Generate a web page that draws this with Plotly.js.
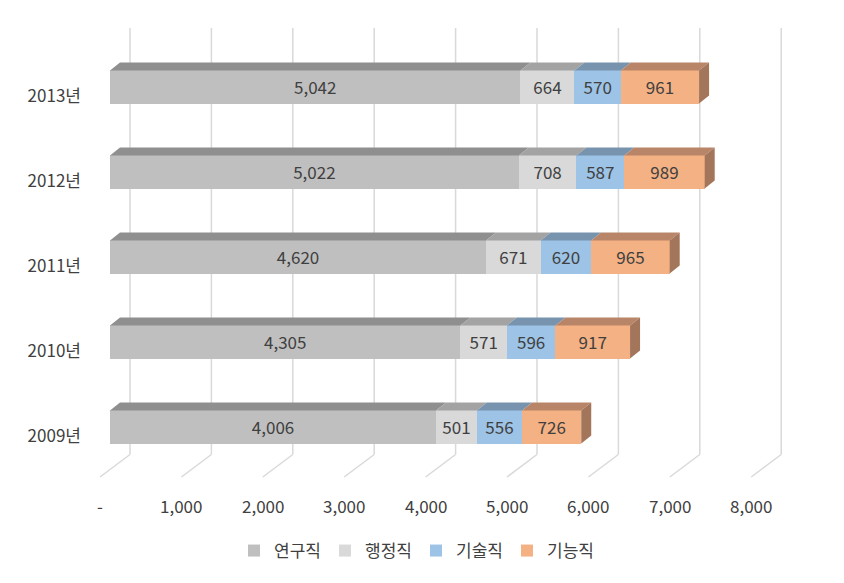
<!DOCTYPE html>
<html>
<head>
<meta charset="utf-8">
<script src="https://cdn.plot.ly/plotly-3.0.1.min.js"></script>
<style>html,body{margin:0;padding:0;background:#fff;}#chart{width:844px;height:583px;}</style>
</head>
<body>
<div id="chart"></div>
<script>
// ---- data ----
const years = ["2009년", "2010년", "2011년", "2012년", "2013년"];
const seriesNames = ["연구직", "행정직", "기술직", "기능직"];
const research = [4006, 4305, 4620, 5022, 5042];   // 연구직
const admin    = [501, 571, 671, 708, 664];        // 행정직
const tech     = [556, 596, 620, 587, 570];        // 기술직
const skill    = [726, 917, 965, 989, 961];        // 기능직
const xTicks = [0, 1000, 2000, 3000, 4000, 5000, 6000, 7000, 8000];
const xTickText = ["-", "1,000", "2,000", "3,000", "4,000", "5,000", "6,000", "7,000", "8,000"];

// ---- style ----
const frontColors = ["#bfbfbf", "#d9d9d9", "#9dc3e6", "#f4b183"];
const topColors   = ["#8f8f8f", "#a3a3a3", "#7893ae", "#b98568"];
const sideColor   = "#a3755a";
const textColor = "#404040";
const fontFam = "'Noto Sans CJK KR', 'Noto Sans', sans-serif";
const fontSize = 17;

const W = 844, H = 583;
const margin = {l: 90, r: 44, t: 20, b: 98};
const plotW = W - margin.l - margin.r, plotH = H - margin.t - margin.b;
const xRange = [-245.7, 8476.7];
const yRange = [-0.6824, 4.788];
const pxPerX = plotW / (xRange[1] - xRange[0]);
const pxPerY = plotH / (yRange[1] - yRange[0]);
const barW = 0.39;
// 3D depth offsets (pixels)
const depthTopDX = 10, depthTopDY = 8;      // bar top face
const backDX = 20, backDY = 15;              // bar front -> back wall
const frontDX = -10, frontDY = -7.5;         // bar front -> floor front edge
const gridTopPx = 28;

const seriesVals = [research, admin, tech, skill];
const idx = years.map((_, i) => i);

const traces = seriesVals.map((vals, s) => ({
  type: "bar", orientation: "h", name: seriesNames[s],
  y: idx, x: vals, width: barW,
  marker: {color: frontColors[s], line: {width: 0}},
  text: vals.map(v => v.toLocaleString("en-US")),
  textposition: "inside", insidetextanchor: "middle",
  textfont: {family: fontFam, size: fontSize, color: textColor},
  hoverinfo: "x+name"
}));

const ux = px => px / pxPerX;
const uy = px => px / pxPerY;
// floor level at the bar-front plane: half a category below the lowest bar
function floorLevel(dy) { return -0.5 + uy(dy); }

const shapes = [];
// back-wall gridlines and floor diagonals
xTicks.forEach(v => {
  const xb = v + ux(backDX);
  const xf = v + ux(frontDX);
  shapes.push({type: "line", xref: "x", yref: "y", layer: "below",
    x0: xb, x1: xb, y0: floorLevel(backDY), y1: (H - margin.b - gridTopPx) / pxPerY + yRange[0],
    line: {color: "#d9d9d9", width: 1.5}});
  shapes.push({type: "line", xref: "x", yref: "y", layer: "below",
    x0: xb, x1: xf, y0: floorLevel(backDY), y1: floorLevel(frontDY),
    line: {color: "#d9d9d9", width: 1.5}});
});

// top faces and end side faces
idx.forEach(i => {
  let start = 0;
  const top = i + barW / 2, bot = i - barW / 2;
  const dx = ux(depthTopDX), dy = uy(depthTopDY);
  seriesVals.forEach((vals, s) => {
    const end = start + vals[i];
    shapes.push({type: "path", xref: "x", yref: "y", layer: "above",
      path: `M${start},${top} L${end},${top} L${end + dx},${top + dy} L${start + dx},${top + dy} Z`,
      fillcolor: topColors[s], line: {width: 0}});
    if (s === seriesVals.length - 1) {
      shapes.push({type: "path", xref: "x", yref: "y", layer: "above",
        path: `M${end},${top} L${end + dx},${top + dy} L${end + dx},${bot + dy} L${end},${bot} Z`,
        fillcolor: sideColor, line: {width: 0}});
    }
    start = end;
  });
});

// x tick labels on the floor front edge
const tickLabelY = -(505 - (H - margin.b)) / plotH;
const annotations = xTicks.map((v, k) => ({
  x: v + ux(frontDX), xref: "x", y: tickLabelY, yref: "paper",
  text: xTickText[k], showarrow: false, xanchor: "center", yanchor: "middle",
  font: {family: fontFam, size: fontSize, color: textColor}
}));

const layout = {
  width: W, height: H, margin: margin,
  paper_bgcolor: "#ffffff", plot_bgcolor: "rgba(0,0,0,0)",
  barmode: "stack",
  xaxis: {range: xRange, showgrid: false, zeroline: false, showticklabels: false, showline: false, fixedrange: true},
  yaxis: {range: yRange, showgrid: false, zeroline: false, showline: false,
    tickvals: idx.map(i => i - uy(9)), ticktext: years, ticks: "", ticklabelstandoff: 8,
    tickfont: {family: fontFam, size: fontSize, color: textColor}, fixedrange: true},
  showlegend: true,
  legend: {orientation: "h", xref: "container", yref: "container",
    x: 234 / W, xanchor: "left", y: 1 - 551 / H, yanchor: "middle",
    entrywidth: 46, entrywidthmode: "pixels",
    font: {family: fontFam, size: fontSize, color: textColor}, traceorder: "normal"},
  shapes: shapes, annotations: annotations,
  font: {family: fontFam}
};

Plotly.newPlot("chart", traces, layout, {displayModeBar: false, staticPlot: true});
</script>
</body>
</html>
